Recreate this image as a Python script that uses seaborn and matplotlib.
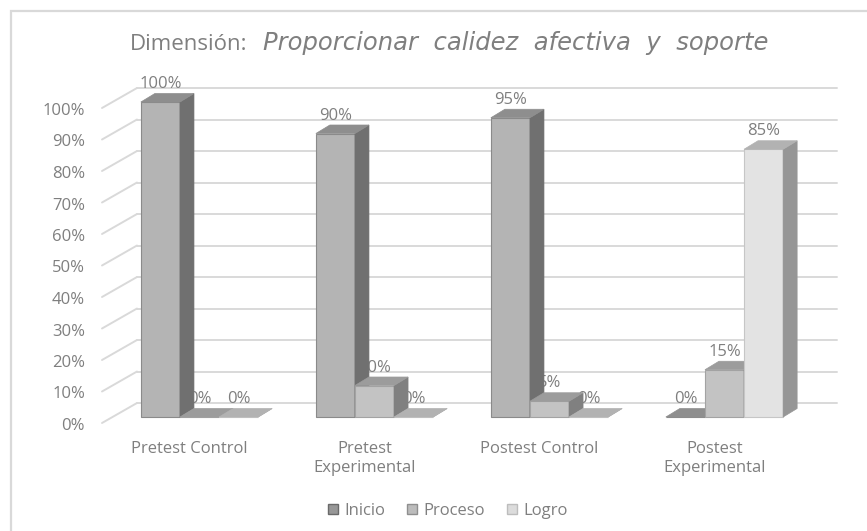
"""Dimension chart: Proporcionar calidez afectiva y soporte (3D-style bars)"""
import matplotlib
matplotlib.use('Agg')
import matplotlib.pyplot as plt
import seaborn as sns
import pandas as pd
from matplotlib.patches import Polygon, Rectangle
from matplotlib.lines import Line2D
from matplotlib.transforms import ScaledTranslation

# data (percent)
grupos = ['Pretest Control', 'Pretest\nExperimental', 'Postest Control', 'Postest\nExperimental']
niveles = ['Inicio', 'Proceso', 'Logro']
inicio = [100, 90, 95, 0]
proceso = [0, 10, 5, 15]
logro = [0, 0, 0, 85]
yticks = [0, 10, 20, 30, 40, 50, 60, 70, 80, 90, 100]

# colours: front, side, top, edge
front = ['#b4b4b4', '#c3c3c3', '#e3e3e3']
side = ['#707070', '#808080', '#969696']
top = ['#8e8e8e', '#9c9c9c', '#b2b2b2']
edge = ['#8a8a8a', '#a3a3a3', '#c6c6c6']
legend_fill = ['#979797', '#bcbcbc', '#dcdcdc']
legend_edge = ['#6a6a6a', '#8f8f8f', '#bdbdbd']
txt = '#7f7f7f'
grid = '#d9d9d9'

rows = []
for nivel, vals in zip(niveles, [inicio, proceso, logro]):
    for g, v in zip(grupos, vals):
        rows.append({'grupo': g, 'nivel': nivel, 'valor': v / 100})
df = pd.DataFrame(rows)

sns.set_style('white')
plt.rcParams['font.family'] = ['Open Sans', 'DejaVu Sans']

W, H = 867, 531
fig = plt.figure(figsize=(W / 100, H / 100), dpi=100)
ax = fig.add_axes([112 / W, (H - 417) / H, 700 / W, 315 / H])

sns.barplot(data=df, x='grupo', y='valor', hue='nivel', order=grupos,
            hue_order=niveles, palette=front, width=0.67, gap=0,
            legend=False, ax=ax)
ax.set_xlim(-0.5, 3.5)
ax.set_ylim(0, 1)

# pixel -> data
sx = 4.0 / 700
sy = 1.0 / 315
wall_dx, wall_dy = 25 * sx, 14 * sy
floor_dx, floor_dy = -10 * sx, -6 * sy
bar_dx, bar_dy = 14 * sx, 8.5 * sy

# back wall gridlines + left wall diagonals
for t in yticks:
    v = t / 100
    ax.plot([-0.5 + wall_dx, 3.5 + wall_dx], [v + wall_dy, v + wall_dy],
            color=grid, lw=1.4, clip_on=False, zorder=1)
    ax.plot([-0.5 + floor_dx, -0.5 + wall_dx], [v + floor_dy, v + wall_dy],
            color=grid, lw=1.4, clip_on=False, zorder=1)

# 3d faces
for i, cont in enumerate(ax.containers):
    for p in cont.patches:
        x0, w, h = p.get_x(), p.get_width(), p.get_height()
        z = 3 + (x0 + 1) * 0.01
        p.set_edgecolor(edge[i])
        p.set_linewidth(0.8)
        p.set_zorder(z)
        p.set_clip_on(False)
        sd = Polygon([(x0 + w, 0), (x0 + w, h), (x0 + w + bar_dx, h + bar_dy),
                      (x0 + w + bar_dx, bar_dy)], closed=True,
                     facecolor=side[i], edgecolor=side[i], lw=0.5,
                     zorder=z, clip_on=False)
        tp = Polygon([(x0, h), (x0 + w, h), (x0 + w + bar_dx, h + bar_dy),
                      (x0 + bar_dx, h + bar_dy)], closed=True,
                     facecolor=top[i], edgecolor=top[i], lw=0.5,
                     zorder=z, clip_on=False)
        ax.add_patch(sd)
        ax.add_patch(tp)
        ax.text(x0 + w / 2, h + 18 * sy, f'{round(h * 100)}%', ha='center',
                va='center', fontsize=12, color=txt, zorder=2.5, clip_on=False)

# axes text
sns.despine(ax=ax, left=True, bottom=True)
ax.set_xlabel('')
ax.set_ylabel('')
ax.set_yticks([t / 100 for t in yticks])
ax.set_yticklabels([f'{t}%' for t in yticks])
ax.tick_params(axis='y', length=0, pad=19.5, labelsize=12, labelcolor=txt)
ax.tick_params(axis='x', length=0, pad=17, labelsize=12, labelcolor=txt)
for lab in ax.get_yticklabels():
    lab.set_transform(lab.get_transform() + ScaledTranslation(0, -0.07, fig.dpi_scale_trans))
for lab in ax.get_xticklabels():
    lab.set_linespacing(1.25)
    lab.set_transform(lab.get_transform() + ScaledTranslation(-0.10, 0, fig.dpi_scale_trans))

# title: regular part + oblique part fitted to the reference width
fig.text(130 / W, (H - 50) / H, 'Dimensión:', fontsize=16, color=txt,
         ha='left', va='baseline')
t2 = fig.text(263 / W, (H - 50) / H, 'Proporcionar  calidez  afectiva  y  soporte',
              fontsize=15.5, color=txt, style='italic', family=['DejaVu Sans'],
              ha='left', va='baseline')
fig.canvas.draw()
wpx = t2.get_window_extent().width
t2.set_fontsize(15.5 * 505 / wpx)

# legend
handles = [Line2D([], [], ls='', marker='s', markersize=7.5,
                  markerfacecolor=f, markeredgecolor=e, markeredgewidth=1)
           for f, e in zip(legend_fill, legend_edge)]
fig.legend(handles, niveles, loc='center', bbox_to_anchor=(447 / W, (H - 511) / H),
           ncol=3, frameon=False, fontsize=12, labelcolor=txt,
           handlelength=0.8, handletextpad=0.3, columnspacing=1.2)

# chart border
fig.add_artist(Rectangle((10.5 / W, -0.1), 1.2, 1 - 10.5 / H + 0.1,
                         transform=fig.transFigure, fill=False,
                         edgecolor='#d9d9d9', lw=1.6))

fig.savefig('out.png', dpi=100)
